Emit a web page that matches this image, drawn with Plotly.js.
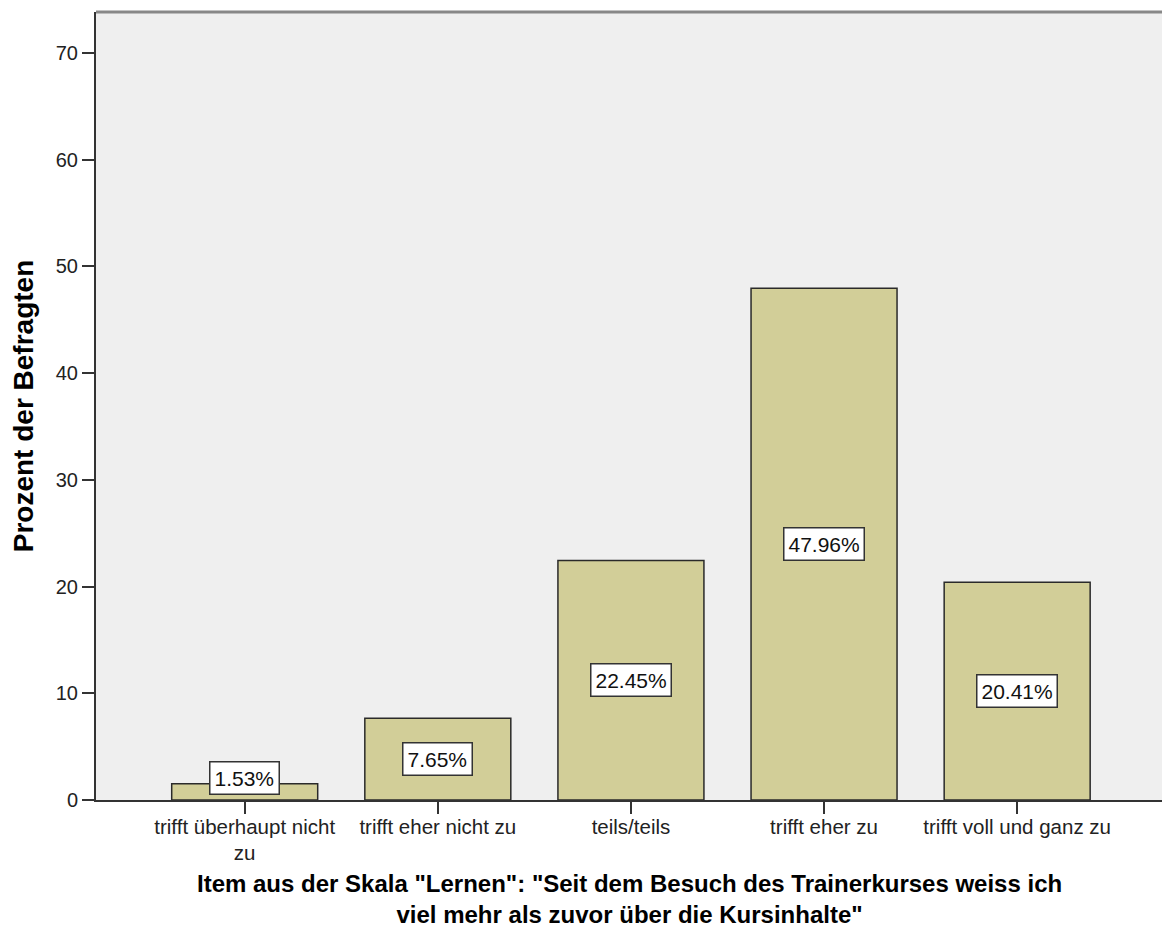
<!DOCTYPE html>
<html>
<head>
<meta charset="utf-8">
<script src="https://cdn.plot.ly/plotly-3.0.1.min.js"></script>
<style>html,body{margin:0;padding:0;background:#fff;}</style>
</head>
<body>
<div id="chart" style="width:1164px;height:933px;"></div>
<script>
const categories = ["trifft überhaupt nicht<br>zu", "trifft eher nicht zu", "teils/teils", "trifft eher zu", "trifft voll und ganz zu"];
const percentValues = [1.53, 7.65, 22.45, 47.96, 20.41];
const yTickValues = [0, 10, 20, 30, 40, 50, 60, 70];
const xTitle = 'Item aus der Skala "Lernen": "Seit dem Besuch des Trainerkurses weiss ich<br>viel mehr als zuvor über die Kursinhalte"';
const yTitle = "Prozent der Befragten";

const font = "Liberation Sans, Arial, sans-serif";

const trace = {
  type: "bar",
  x: categories,
  y: percentValues,
  width: 0.756,
  marker: {color: "#D2CE98", line: {color: "#2a2a2a", width: 1.5}},
  hoverinfo: "skip"
};

const annotations = percentValues.map((v, i) => ({
  x: categories[i],
  y: Math.max(v / 2, 2.1),
  xref: "x", yref: "y",
  text: v.toFixed(2) + "%",
  showarrow: false,
  font: {family: font, size: 21, color: "#111"},
  bgcolor: "#ffffff",
  bordercolor: "#333",
  borderwidth: 1.5,
  borderpad: 4
}));

annotations.push({
  x: 0.5, y: 0, xref: "paper", yref: "paper",
  xanchor: "center", yanchor: "middle",
  yshift: -99,
  text: xTitle,
  showarrow: false,
  font: {family: font, size: 24, color: "#000", weight: "bold"}
});

const layout = {
  width: 1164, height: 933,
  margin: {l: 96, r: 2, t: 12, b: 133},
  paper_bgcolor: "#ffffff",
  plot_bgcolor: "#EFEFEF",
  showlegend: false,
  font: {family: font, color: "#222"},
  xaxis: {
    type: "category",
    range: [-0.77, 4.75],
    showgrid: false, zeroline: false,
    showline: true, linecolor: "#333", linewidth: 2,
    ticks: "outside", ticklen: 12, tickwidth: 2, tickcolor: "#333",
    ticklabelstandoff: -5,
    tickfont: {family: font, size: 20.5, color: "#222"},
    fixedrange: true
  },
  yaxis: {
    range: [0, 73.84],
    tickvals: yTickValues,
    showgrid: false, zeroline: false,
    showline: true, linecolor: "#333", linewidth: 2,
    ticks: "outside", ticklen: 12, tickwidth: 2, tickcolor: "#333",
    tickfont: {family: font, size: 20, color: "#222"},
    title: {text: yTitle, font: {family: font, size: 28, color: "#000", weight: "bold"}, standoff: 14},
    fixedrange: true
  },
  annotations: annotations,
  shapes: [{type: "line", xref: "paper", yref: "paper", x0: 0, x1: 1, y0: 1, y1: 1, line: {color: "#888", width: 3}}]
};

Plotly.newPlot("chart", [trace], layout, {displayModeBar: false, staticPlot: true});
</script>
</body>
</html>
